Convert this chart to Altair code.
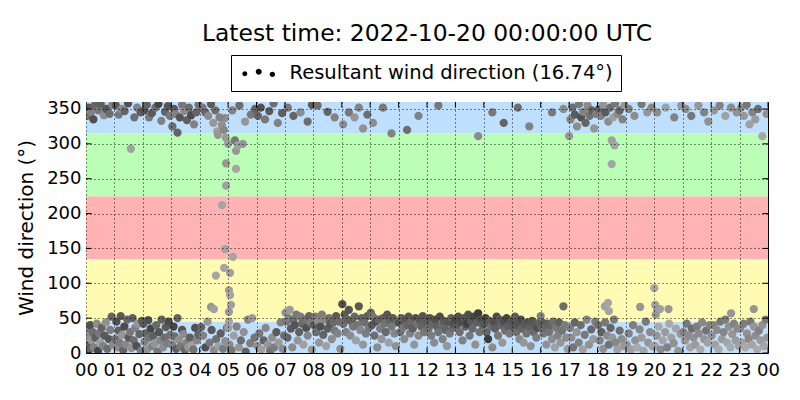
import pandas as pd
import altair as alt

# decimal hour (UTC) of each sample, one line per hour of the day
hours = [
    0.02, 0.05, 0.08, 0.12, 0.15, 0.20, 0.24, 0.28, 0.33, 0.38, 0.42, 0.46, 0.50, 0.55, 0.60, 0.65, 0.70, 0.75, 0.80, 0.85, 0.90, 0.95, 0.04, 0.10, 0.18, 0.26, 0.31, 0.44, 0.52, 0.63, 0.72, 0.83, 0.93,
    1.03, 1.07, 1.10, 1.14, 1.18, 1.22, 1.27, 1.31, 1.35, 1.40, 1.45, 1.50, 1.55, 1.60, 1.64, 1.68, 1.73, 1.78, 1.83, 1.88, 1.93, 1.97, 1.05, 1.15, 1.25, 1.36, 1.48, 1.58, 1.70, 1.80, 1.92,
    2.02, 2.06, 2.10, 2.15, 2.19, 2.23, 2.28, 2.33, 2.37, 2.42, 2.47, 2.52, 2.57, 2.61, 2.66, 2.71, 2.76, 2.81, 2.86, 2.91, 2.96, 2.05, 2.14, 2.22, 2.32, 2.44, 2.55, 2.65, 2.78, 2.88, 2.95,
    3.03, 3.08, 3.12, 3.17, 3.22, 3.27, 3.32, 3.38, 3.43, 3.48, 3.54, 3.60, 3.66, 3.72, 3.78, 3.84, 3.90, 3.95, 3.04, 3.10, 3.15, 3.22, 3.30, 3.38, 3.45, 3.55, 3.62, 3.70, 3.80, 3.88, 3.96,
    4.05, 4.12, 4.20, 4.28, 4.35, 4.42, 4.50, 4.58, 4.66, 4.74, 4.82, 4.90, 4.96, 4.40, 4.50, 4.57, 4.86, 4.89, 4.10, 4.20, 4.30, 4.40, 4.48, 4.55, 4.62, 4.70, 4.78, 4.85, 4.92, 4.64, 4.79,
    4.93, 4.93, 5.00, 5.24, 5.28, 5.35, 5.28, 5.52, 4.89, 5.17, 5.07, 5.03, 5.07, 5.10, 5.03, 5.03, 5.00, 5.05, 5.12, 5.20, 5.30, 5.38, 5.45, 5.55, 5.62, 5.70, 5.78, 5.85, 5.93, 5.15, 5.40, 5.60, 5.80, 5.95,
    6.03, 6.10, 6.17, 6.25, 6.32, 6.40, 6.48, 6.55, 6.62, 6.70, 6.78, 6.85, 6.92, 6.97, 6.05, 6.15, 6.30, 6.45, 6.60, 6.75, 6.90,
    7.02, 7.05, 7.09, 7.13, 7.17, 7.21, 7.26, 7.30, 7.35, 7.40, 7.45, 7.50, 7.55, 7.60, 7.65, 7.70, 7.75, 7.80, 7.85, 7.90, 7.95, 7.10, 7.30, 7.55, 7.80, 7.95,
    8.02, 8.06, 8.10, 8.15, 8.20, 8.25, 8.30, 8.35, 8.40, 8.45, 8.50, 8.55, 8.60, 8.65, 8.70, 8.75, 8.80, 8.85, 8.90, 8.95, 8.15, 8.50, 8.75,
    9.02, 9.06, 9.10, 9.15, 9.20, 9.25, 9.30, 9.35, 9.40, 9.45, 9.50, 9.55, 9.60, 9.65, 9.70, 9.75, 9.80, 9.85, 9.90, 9.95, 9.05, 9.25, 9.45, 9.60, 9.75, 9.90,
    10.02, 10.06, 10.10, 10.15, 10.20, 10.25, 10.30, 10.35, 10.40, 10.45, 10.50, 10.55, 10.60, 10.65, 10.70, 10.75, 10.80, 10.85, 10.90, 10.95, 10.10, 10.45, 10.75,
    11.02, 11.06, 11.10, 11.15, 11.20, 11.25, 11.30, 11.35, 11.40, 11.45, 11.50, 11.55, 11.60, 11.65, 11.70, 11.75, 11.80, 11.85, 11.90, 11.95, 11.30, 11.70,
    12.02, 12.06, 12.10, 12.15, 12.20, 12.25, 12.30, 12.35, 12.40, 12.45, 12.50, 12.55, 12.60, 12.65, 12.70, 12.75, 12.80, 12.85, 12.90, 12.95, 12.40,
    13.02, 13.06, 13.10, 13.15, 13.20, 13.25, 13.30, 13.35, 13.40, 13.45, 13.50, 13.55, 13.60, 13.65, 13.70, 13.75, 13.80, 13.85, 13.90, 13.95, 13.80,
    14.02, 14.06, 14.10, 14.15, 14.20, 14.25, 14.30, 14.35, 14.40, 14.45, 14.50, 14.55, 14.60, 14.65, 14.70, 14.75, 14.80, 14.85, 14.90, 14.95, 14.30, 14.70,
    15.02, 15.06, 15.10, 15.15, 15.20, 15.25, 15.30, 15.35, 15.40, 15.45, 15.50, 15.55, 15.60, 15.65, 15.70, 15.75, 15.80, 15.85, 15.90, 15.95, 15.20, 15.60,
    16.02, 16.06, 16.10, 16.15, 16.20, 16.25, 16.30, 16.35, 16.40, 16.45, 16.50, 16.55, 16.60, 16.65, 16.70, 16.75, 16.80, 16.85, 16.90, 16.95, 16.00, 16.80, 16.40,
    17.03, 17.08, 17.14, 17.20, 17.27, 17.34, 17.41, 17.48, 17.55, 17.62, 17.70, 17.78, 17.85, 17.92, 17.00, 17.05, 17.12, 17.20, 17.28, 17.35, 17.42, 17.50, 17.58, 17.65, 17.72, 17.80, 17.88, 17.95,
    18.03, 18.08, 18.14, 18.20, 18.27, 18.34, 18.40, 18.46, 18.52, 18.58, 18.64, 18.70, 18.78, 18.85, 18.92, 18.26, 18.37, 18.40, 18.50, 18.50, 18.60, 18.05, 18.12, 18.20, 18.28, 18.38, 18.45, 18.55, 18.62, 18.70, 18.78, 18.88, 18.95,
    19.03, 19.10, 19.18, 19.25, 19.33, 19.40, 19.48, 19.55, 19.62, 19.70, 19.78, 19.85, 19.93, 19.50, 19.10, 19.30, 19.55, 19.75, 19.90,
    20.00, 20.03, 20.05, 20.10, 20.20, 20.50, 20.02, 20.08, 20.15, 20.22, 20.30, 20.38, 20.45, 20.52, 20.60, 20.68, 20.76, 20.84, 20.92, 20.10, 20.40, 20.70, 20.95,
    21.02, 21.08, 21.14, 21.20, 21.26, 21.32, 21.38, 21.44, 21.50, 21.56, 21.62, 21.68, 21.75, 21.82, 21.88, 21.94, 21.10, 21.30, 21.55, 21.75, 21.90,
    22.02, 22.08, 22.14, 22.20, 22.26, 22.32, 22.38, 22.44, 22.50, 22.56, 22.62, 22.68, 22.74, 22.80, 22.86, 22.92, 22.98, 22.70, 22.10, 22.30, 22.50, 22.70, 22.90,
    23.02, 23.08, 23.14, 23.20, 23.26, 23.32, 23.38, 23.44, 23.50, 23.56, 23.62, 23.68, 23.74, 23.80, 23.86, 23.92, 23.97, 23.50, 23.05, 23.15, 23.25, 23.35, 23.45, 23.55, 23.65, 23.80, 23.95,
]

# wind direction in degrees
wdir = [
    35, 12, 25, 5, 40, 18, 30, 8, 22, 42, 3, 28, 15, 36, 10, 25, 44, 6, 20, 33, 52, 12, 340, 352, 345, 335, 355, 348, 357, 341, 350, 343, 356,
    20, 45, 8, 32, 15, 53, 26, 4, 38, 12, 48, 22, 30, 7, 50, 18, 36, 10, 42, 27, 3, 46, 355, 342, 350, 347, 358, 293, 338, 352, 345,
    42, 16, 28, 5, 47, 22, 35, 10, 25, 13, 40, 2, 30, 18, 48, 8, 22, 37, 14, 45, 26, 348, 356, 338, 344, 352, 357, 333, 346, 354, 340,
    12, 38, 24, 6, 50, 19, 9, 33, 27, 4, 15, 8, 22, 11, 5, 36, 18, 26, 325, 350, 343, 316, 338, 356, 347, 334, 352, 341, 328, 345, 356,
    37, 25, 8, 45, 15, 33, 4, 20, 10, 28, 6, 17, 36, 66, 63, 111, 122, 337, 352, 345, 340, 357, 330, 348, 318, 338, 327, 320, 309, 313, 212,
    240, 272, 300, 305, 290, 298, 264, 300, 149, 138, 115, 90, 83, 69, 59, 45, 36, 12, 4, 25, 38, 8, 18, 30, 2, 48, 14, 50, 22, 348, 355, 332, 342, 350,
    10, 28, 5, 18, 36, 12, 3, 22, 8, 30, 15, 44, 6, 25, 340, 352, 335, 347, 358, 330, 344,
    58, 45, 22, 50, 62, 35, 8, 47, 40, 55, 18, 30, 52, 42, 12, 48, 36, 25, 53, 44, 5, 352, 340, 345, 332, 356,
    40, 52, 30, 46, 15, 38, 55, 26, 48, 10, 35, 50, 42, 20, 44, 32, 53, 28, 45, 6, 355, 346, 338,
    70, 42, 55, 30, 48, 62, 25, 45, 38, 52, 18, 40, 67, 33, 50, 12, 44, 28, 53, 36, 328, 345, 338, 352, 322, 342,
    58, 40, 52, 25, 45, 8, 48, 35, 20, 50, 42, 30, 55, 15, 46, 38, 50, 28, 10, 44, 330, 352, 315,
    44, 30, 50, 36, 20, 48, 40, 52, 28, 45, 35, 12, 50, 42, 25, 47, 38, 53, 30, 45, 320, 340,
    45, 35, 50, 25, 42, 15, 48, 38, 30, 52, 40, 20, 46, 33, 10, 44, 28, 50, 36, 42, 355,
    48, 40, 52, 30, 45, 18, 50, 38, 42, 55, 25, 46, 35, 52, 12, 44, 57, 30, 48, 40, 311,
    42, 50, 30, 20, 46, 38, 8, 44, 35, 52, 25, 48, 40, 15, 45, 32, 50, 38, 28, 46, 345, 330,
    38, 45, 52, 30, 40, 20, 48, 35, 15, 42, 28, 44, 38, 10, 46, 30, 40, 22, 36, 44, 352, 325,
    38, 44, 28, 35, 12, 42, 30, 40, 20, 45, 8, 36, 25, 44, 15, 32, 67, 40, 22, 6, 53, 350, 345,
    36, 22, 8, 44, 30, 15, 40, 5, 26, 48, 12, 34, 20, 45, 311, 335, 352, 342, 325, 357, 338, 346, 330, 355, 340, 348, 322, 343,
    40, 18, 30, 6, 44, 25, 12, 36, 22, 48, 15, 5, 32, 20, 10, 67, 72, 60, 271, 305, 298, 350, 340, 356, 345, 332, 352, 338, 358, 343, 348, 335, 355,
    12, 28, 5, 40, 18, 8, 34, 22, 3, 45, 15, 30, 10, 66, 350, 340, 357, 345, 352,
    93, 69, 55, 63, 63, 63, 10, 25, 38, 5, 18, 30, 8, 42, 22, 14, 35, 3, 27, 345, 352, 338, 355,
    30, 18, 42, 25, 8, 35, 22, 12, 38, 28, 5, 44, 20, 32, 15, 40, 350, 340, 355, 345, 332,
    25, 40, 12, 33, 5, 45, 20, 30, 48, 15, 38, 8, 27, 42, 18, 35, 10, 57, 348, 355, 340, 352, 345,
    35, 15, 42, 8, 28, 20, 45, 12, 38, 25, 5, 32, 18, 40, 10, 48, 22, 63, 352, 340, 356, 328, 345, 335, 350, 311, 343,
]

# grey level of each marker (0 = black, 255 = white)
shade = [
    120, 90, 140, 100, 80, 150, 110, 130, 95, 140, 70, 120, 160, 100, 130, 90, 145, 110, 85, 125, 100, 140, 110, 90, 130, 80, 100, 120, 95, 140, 85, 110, 130,
    110, 80, 140, 95, 125, 90, 150, 100, 75, 135, 105, 90, 120, 145, 95, 110, 130, 80, 150, 100, 125, 90, 90, 120, 140, 100, 80, 160, 110, 130, 95,
    90, 130, 100, 145, 80, 115, 70, 125, 95, 150, 105, 120, 85, 135, 100, 140, 110, 90, 125, 75, 115, 80, 100, 120, 90, 110, 70, 130, 100, 85, 120,
    130, 70, 110, 95, 100, 145, 120, 85, 140, 105, 130, 150, 95, 160, 115, 80, 135, 100, 110, 90, 130, 100, 85, 120, 140, 95, 110, 75, 130, 100, 115,
    100, 130, 80, 150, 120, 90, 140, 110, 160, 95, 125, 145, 105, 150, 160, 165, 165, 140, 120, 100, 140, 90, 150, 110, 160, 130, 145, 135, 155, 150, 165,
    160, 150, 155, 120, 150, 160, 165, 150, 165, 165, 160, 160, 165, 160, 155, 165, 155, 140, 120, 160, 130, 150, 110, 145, 100, 135, 125, 155, 115, 130, 110, 150, 120, 100,
    140, 120, 160, 100, 135, 150, 115, 145, 125, 90, 155, 130, 140, 110, 100, 80, 120, 90, 110, 130, 95,
    145, 120, 100, 130, 155, 90, 140, 110, 85, 120, 150, 95, 125, 105, 160, 115, 80, 135, 100, 125, 150, 120, 100, 140, 110, 90,
    90, 120, 110, 140, 150, 80, 125, 100, 135, 160, 95, 115, 85, 140, 105, 120, 90, 130, 110, 145, 110, 100, 130,
    80, 110, 90, 130, 100, 85, 140, 95, 120, 105, 160, 115, 90, 135, 100, 150, 110, 125, 95, 120, 140, 120, 150, 130, 145, 110,
    100, 90, 120, 110, 80, 140, 100, 125, 150, 95, 115, 105, 85, 160, 100, 120, 90, 135, 145, 110, 140, 120, 130,
    80, 110, 95, 120, 140, 90, 100, 85, 130, 105, 95, 150, 80, 115, 135, 90, 100, 85, 120, 95, 110, 130,
    90, 110, 85, 125, 100, 140, 80, 95, 115, 75, 105, 130, 90, 100, 150, 85, 120, 95, 105, 80, 120,
    70, 90, 80, 110, 75, 130, 85, 100, 65, 80, 120, 90, 105, 70, 145, 95, 60, 115, 80, 100, 140,
    85, 70, 100, 60, 90, 110, 140, 80, 95, 75, 120, 90, 100, 150, 80, 110, 70, 95, 120, 85, 120, 100,
    90, 80, 95, 110, 85, 140, 75, 100, 150, 90, 115, 80, 95, 145, 85, 105, 90, 125, 80, 100, 110, 130,
    100, 90, 120, 105, 145, 95, 115, 100, 140, 110, 160, 120, 130, 95, 150, 115, 110, 125, 140, 155, 130, 140, 120,
    125, 140, 115, 100, 150, 130, 110, 160, 120, 135, 145, 105, 155, 125, 150, 130, 110, 90, 140, 120, 80, 130, 100, 140, 115, 95, 150, 125,
    110, 130, 95, 145, 120, 140, 115, 100, 150, 125, 135, 160, 110, 140, 155, 160, 165, 165, 165, 160, 165, 100, 130, 150, 90, 140, 110, 160, 120, 140, 100, 130, 150,
    150, 130, 160, 125, 145, 170, 135, 155, 165, 120, 150, 140, 160, 150, 130, 140, 120, 150, 135,
    165, 160, 150, 150, 160, 150, 160, 150, 170, 140, 165, 155, 130, 170, 160, 145, 165, 150, 155, 140, 160, 130, 150,
    130, 150, 120, 140, 165, 110, 145, 155, 125, 140, 170, 135, 150, 115, 160, 130, 140, 120, 150, 130, 145,
    145, 130, 160, 140, 170, 120, 155, 135, 125, 165, 145, 170, 150, 130, 155, 140, 160, 150, 150, 130, 160, 140, 145,
    140, 160, 125, 170, 145, 135, 120, 165, 150, 140, 170, 130, 155, 145, 165, 125, 150, 150, 140, 150, 120, 160, 130, 155, 110, 165, 145,
]

# direction sectors shaded behind the points
band_lo = [0, 45, 135, 225, 315]
band_hi = [45, 135, 225, 315, 360]
band_color = ["#bfdfff", "#fffbb3", "#ffb3b3", "#bbffb7", "#bfdfff"]

x_ticks = list(range(0, 25))
y_ticks = [0, 50, 100, 150, 200, 250, 300, 350]

legend_label = "Resultant wind direction (16.74°)"
title_text = "Latest time: 2022-10-20 00:00:00 UTC"

assert len(hours) == len(wdir) == len(shade)

df = pd.DataFrame({"hour": hours, "wdir": wdir, "shade": shade})
df["grey"] = ["#%02x%02x%02x" % (g, g, g) for g in df["shade"]]
df["series"] = legend_label

bands = pd.DataFrame({"lo": band_lo, "hi": band_hi, "color": band_color})
xt = pd.DataFrame({"t": x_ticks})
yt = pd.DataFrame({"v": y_ticks})

x_scale = alt.Scale(domain=[0, 24], nice=False, zero=False)
y_scale = alt.Scale(domain=[0, 360], nice=False)

# same axis objects on every layer so the layers merge cleanly
grid_style = dict(
    grid=True, gridColor="black", gridDash=[1, 3], gridWidth=1, gridOpacity=0.9,
    ticks=False, domain=False, zindex=1,
    labelFont="DejaVu Sans", labelFontSize=18, labelColor="black",
    labelFlush=False, labelOverlap=False,
)
x_axis = alt.Axis(
    values=x_ticks, title=None, labelPadding=8,
    labelExpr="(datum.value % 24) < 10 ? '0' + (datum.value % 24) : '' + (datum.value % 24)",
    **grid_style,
)
y_axis = alt.Axis(
    values=y_ticks, title="Wind direction (°)", labelPadding=5, titlePadding=10,
    titleFont="DejaVu Sans", titleFontSize=20, titleFontWeight="normal", titleColor="black",
    **grid_style,
)

# three black dots, like the matplotlib scatter legend handle
three_dots = (
    "M-4.1,0.25a0.62,0.62 0 1,0 1.24,0a0.62,0.62 0 1,0 -1.24,0"
    "M-0.75,-0.25a0.75,0.75 0 1,0 1.5,0a0.75,0.75 0 1,0 -1.5,0"
    "M2.72,0.4a0.68,0.68 0 1,0 1.36,0a0.68,0.68 0 1,0 -1.36,0"
)

# the sector bands have no x channel, so they span the whole plot width
background = alt.Chart(bands).mark_rect().encode(
    y=alt.Y("lo:Q", scale=y_scale, axis=y_axis),
    y2="hi:Q",
    color=alt.Color("color:N", scale=None),
)

points = alt.Chart(df).mark_circle(size=68, clip=True).encode(
    x=alt.X("hour:Q", scale=x_scale, axis=x_axis),
    y=alt.Y("wdir:Q", scale=y_scale, axis=y_axis),
    color=alt.Color("grey:N", scale=None),
    opacity=alt.Opacity(
        "series:N",
        scale=alt.Scale(range=[0.85]),
        legend=alt.Legend(
            title=None, orient="none", legendX=145, legendY=-47,
            symbolType=three_dots, symbolSize=64, symbolFillColor="black",
            symbolStrokeWidth=0, symbolOffset=10, labelOffset=21,
            labelFont="DejaVu Sans", labelFontSize=19.5, labelLimit=0, labelColor="black",
            strokeColor="black", fillColor="white", padding=8, cornerRadius=0,
        ),
    ),
)

# matplotlib-style inward ticks on all four sides (outer half is clipped away)
tick_kw = dict(clip=True, size=11, thickness=1, color="black", opacity=1)
ticks_bottom = alt.Chart(xt).mark_tick(orient="vertical", **tick_kw).encode(
    x=alt.X("t:Q", scale=x_scale, axis=x_axis),
    y=alt.Y(datum=0, scale=y_scale, axis=y_axis),
)
ticks_top = alt.Chart(xt).mark_tick(orient="vertical", **tick_kw).encode(
    x=alt.X("t:Q", scale=x_scale, axis=x_axis),
    y=alt.Y(datum=360, scale=y_scale, axis=y_axis),
)
ticks_left = alt.Chart(yt).mark_tick(orient="horizontal", **tick_kw).encode(
    x=alt.X(datum=0, scale=x_scale, axis=x_axis),
    y=alt.Y("v:Q", scale=y_scale, axis=y_axis),
)
ticks_right = alt.Chart(yt).mark_tick(orient="horizontal", **tick_kw).encode(
    x=alt.X(datum=24, scale=x_scale, axis=x_axis),
    y=alt.Y("v:Q", scale=y_scale, axis=y_axis),
)

chart = alt.layer(
    background, points, ticks_bottom, ticks_top, ticks_left, ticks_right
).properties(
    width=682, height=251,
    title=alt.Title(title_text, font="DejaVu Sans", fontSize=23.4, fontWeight="normal",
                    anchor="middle", frame="group", offset=8, color="black"),
    autosize=alt.AutoSizeParams(type="none"),
    padding={"left": 78, "top": 94, "right": 24, "bottom": 30},
).configure_view(
    stroke="black", strokeWidth=1,
)

chart.save("out.html", embed_options={"renderer": "svg", "actions": False})
